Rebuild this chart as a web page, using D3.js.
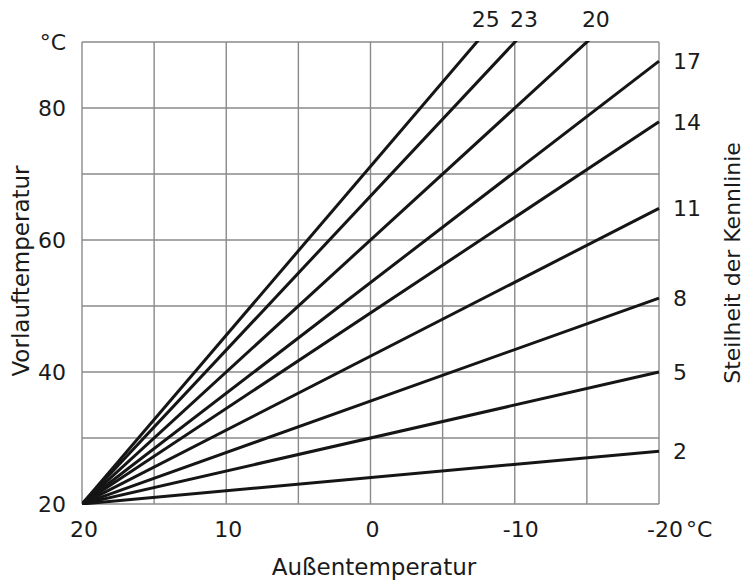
<!DOCTYPE html>
<html>
<head>
<meta charset="utf-8">
<script src="https://cdn.jsdelivr.net/npm/d3@7"></script>
<style>
  html, body { margin: 0; padding: 0; background: #fff; }
  svg { display: block; }
  text { font-family: "DejaVu Sans", Verdana, sans-serif; fill: #1a1a1a; }
</style>
</head>
<body>
<svg id="chart" width="750" height="584"></svg>
<script>
// ---- data ----
const outdoorTicks = [20, 10, 0, -10, -20];
const outdoorGrid = [20, 15, 10, 5, 0, -5, -10, -15, -20];
const flowTicks = [20, 40, 60, 80];
const flowGrid = [20, 30, 40, 50, 60, 70, 80, 90];
// heating curve slope labels and flow temperature reached at -20 °C outdoor
const curveLabels = ["2", "5", "8", "11", "14", "17", "20", "23", "25"];
const flowAtMinus20 = [28, 40, 51.2, 64.8, 77.9, 87.1, 100, 113.3, 122.3];
const startPoint = { outdoor: 20, flow: 20 };

// ---- layout ----
const svg = d3.select("#chart");
const mLeft = 82, mRight = 659, mTop = 42, mBottom = 504;
const x = d3.scaleLinear().domain([20, -20]).range([mLeft, mRight]);
const y = d3.scaleLinear().domain([20, 90]).range([mBottom, mTop]);
const gridColor = "#8a8a8a";

// grid
const g = svg.append("g");
g.selectAll("line.v").data(outdoorGrid).enter().append("line")
  .attr("x1", d => x(d)).attr("x2", d => x(d))
  .attr("y1", mTop).attr("y2", mBottom)
  .attr("stroke", gridColor).attr("stroke-width", 1.4);
g.selectAll("line.h").data(flowGrid).enter().append("line")
  .attr("x1", mLeft).attr("x2", mRight)
  .attr("y1", d => y(d)).attr("y2", d => y(d))
  .attr("stroke", gridColor).attr("stroke-width", 1.4);

// clip
svg.append("defs").append("clipPath").attr("id", "plotclip")
  .append("rect").attr("x", mLeft).attr("y", mTop - 1)
  .attr("width", mRight - mLeft + 2).attr("height", mBottom - mTop + 2);

// curves
const curves = curveLabels.map((lab, i) => ({
  label: lab,
  pts: [[startPoint.outdoor, startPoint.flow], [-20, flowAtMinus20[i]]]
}));
const line = d3.line().x(d => x(d[0])).y(d => y(d[1]));
svg.append("g").attr("clip-path", "url(#plotclip)")
  .selectAll("path").data(curves).enter().append("path")
  .attr("d", d => line(d.pts))
  .attr("fill", "none").attr("stroke", "#151515").attr("stroke-width", 3)
  .attr("stroke-linecap", "butt");

// curve labels
const fs = 22;
curves.forEach(c => {
  const endFlow = c.pts[1][1];
  if (endFlow <= 90) {
    svg.append("text").attr("x", mRight + 14).attr("y", y(endFlow))
      .attr("dy", "0.36em").attr("font-size", fs).text(c.label);
  } else {
    const t = (90 - c.pts[0][1]) / (endFlow - c.pts[0][1]);
    const xo = c.pts[0][0] + t * (c.pts[1][0] - c.pts[0][0]);
    svg.append("text").attr("x", x(xo) + 9).attr("y", 27)
      .attr("text-anchor", "middle").attr("font-size", fs).text(c.label);
  }
});

// y axis labels
flowTicks.forEach(v => {
  svg.append("text").attr("x", 66).attr("y", y(v)).attr("dy", "0.36em")
    .attr("text-anchor", "end").attr("font-size", fs).text(v);
});
svg.append("text").attr("x", 66).attr("y", 50)
  .attr("text-anchor", "end").attr("font-size", fs).text("°C");

// x axis labels
outdoorTicks.forEach(v => {
  svg.append("text").attr("x", x(v) + (v < 0 ? 6 : 2)).attr("y", 537)
    .attr("text-anchor", "middle").attr("font-size", fs).text(v < 0 ? "-" + Math.abs(v) : v);
});
svg.append("text").attr("x", 686).attr("y", 537).attr("font-size", fs).text("°C");

// titles
svg.append("text").attr("x", 374).attr("y", 575).attr("text-anchor", "middle")
  .attr("font-size", 23).text("Außentemperatur");
svg.append("text").attr("transform", "translate(29,271) rotate(-90)")
  .attr("text-anchor", "middle").attr("font-size", 23).text("Vorlauftemperatur");
svg.append("text").attr("transform", "translate(740,263) rotate(-90)")
  .attr("text-anchor", "middle").attr("font-size", fs).text("Steilheit der Kennlinie");
</script>
</body>
</html>
